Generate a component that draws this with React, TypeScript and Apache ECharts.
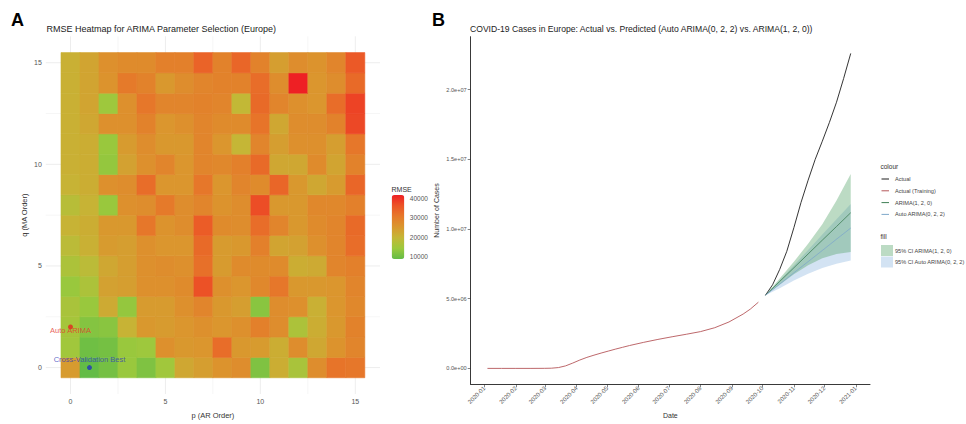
import React, { useEffect, useRef } from 'react';
import * as echarts from 'echarts';

// ---------- Panel A data ----------
const pOrders = [0, 1, 2, 3, 4, 5, 6, 7, 8, 9, 10, 11, 12, 13, 14, 15];
const qOrders = [0, 1, 2, 3, 4, 5, 6, 7, 8, 9, 10, 11, 12, 13, 14, 15];
// RMSE by q (rows), p = 0..15 (columns)
const rmseQ0 = [24500, 8800, 10500, 14000, 11500, 15000, 22500, 24000, 26000, 27000, 11500, 21500, 16000, 27000, 31500, 31000];
const rmseQ1 = [15000, 10000, 10500, 14000, 14500, 26500, 25000, 25500, 32500, 25000, 24500, 21500, 27000, 22500, 26000, 28500];
const rmseQ2 = [15500, 12000, 12500, 20500, 25000, 24500, 25500, 26500, 25500, 26500, 29500, 27000, 16500, 21500, 25000, 29000];
const rmseQ3 = [16000, 14000, 22000, 13500, 24500, 24500, 26500, 28500, 25000, 24000, 12500, 27000, 26500, 21000, 25500, 28000];
const rmseQ4 = [14000, 16500, 23500, 24000, 26500, 26500, 27500, 36500, 26500, 25500, 28000, 31000, 25000, 25000, 25500, 28500];
const rmseQ5 = [16500, 18500, 22500, 24000, 26500, 27000, 26500, 32000, 24500, 27500, 27500, 27500, 21500, 22000, 28500, 29500];
const rmseQ6 = [18500, 21000, 24500, 24000, 26500, 25500, 25500, 33000, 24500, 25000, 29500, 23000, 23500, 26500, 28500, 32500];
const rmseQ7 = [20500, 21500, 25000, 25000, 31000, 26000, 27000, 35000, 27500, 27000, 32500, 28500, 25000, 27500, 28500, 33000];
const rmseQ8 = [18000, 20500, 14000, 26500, 27000, 30500, 27000, 28500, 26000, 27000, 37000, 25000, 25000, 28000, 28000, 29500];
const rmseQ9 = [20500, 21500, 26500, 27000, 32500, 25500, 25500, 31000, 25500, 28500, 27500, 33500, 25000, 22500, 24500, 33500];
const rmseQ10 = [21000, 21500, 13500, 23500, 26500, 28500, 25500, 28500, 28000, 29500, 33000, 22500, 22500, 27500, 23000, 29000];
const rmseQ11 = [21000, 21500, 14000, 24500, 27000, 25000, 25000, 28500, 25500, 20000, 28500, 24000, 26500, 26500, 24000, 31000];
const rmseQ12 = [21000, 22500, 26500, 26500, 29000, 25500, 26500, 28500, 27500, 27500, 31500, 22500, 27000, 27000, 29000, 37500];
const rmseQ13 = [21000, 23000, 14500, 26500, 31000, 28500, 28500, 29000, 28500, 19500, 33000, 28500, 26500, 25500, 32500, 38000];
const rmseQ14 = [21000, 23000, 26000, 30500, 29000, 25000, 27000, 28500, 29000, 29000, 32500, 27000, 41700, 25500, 27000, 33000];
const rmseQ15 = [21000, 23000, 26500, 27500, 27500, 29500, 29500, 34000, 29000, 33500, 29000, 24000, 27000, 26000, 28500, 35500];
const rmseRows = [rmseQ0, rmseQ1, rmseQ2, rmseQ3, rmseQ4, rmseQ5, rmseQ6, rmseQ7, rmseQ8, rmseQ9, rmseQ10, rmseQ11, rmseQ12, rmseQ13, rmseQ14, rmseQ15];

const autoArimaPQ = [0, 2];
const cvBestPQ = [1, 0];
const markerLabels = ['Auto ARIMA', 'Cross-Validation Best'];
const heatTicks = [0, 5, 10, 15];
const heatGridLines = [0, 2.5, 5, 7.5, 10, 12.5, 15];
const rmseLegendTicks = [10000, 20000, 30000, 40000];
const heatColors = ['#63BC46', '#9CC93D', '#C4B736', '#DA972E', '#E6792A', '#EC5426', '#EE2024'];

// ---------- Panel B data ----------
const trainDates = ['2020-01-04', '2020-01-18', '2020-02-01', '2020-02-15', '2020-02-29', '2020-03-07', '2020-03-14', '2020-03-21', '2020-03-28', '2020-04-04', '2020-04-11', '2020-04-18', '2020-04-25', '2020-05-02', '2020-05-09', '2020-05-16', '2020-05-23', '2020-06-06', '2020-06-20', '2020-07-04', '2020-07-18', '2020-08-01', '2020-08-15', '2020-08-29', '2020-09-12', '2020-09-19', '2020-09-27'];
const trainCases = [0, 0, 0, 0, 5000, 15000, 60000, 180000, 380000, 600000, 790000, 950000, 1100000, 1240000, 1380000, 1510000, 1640000, 1870000, 2080000, 2270000, 2450000, 2640000, 2920000, 3330000, 3900000, 4250000, 4750000];
const actualDates = ['2020-10-04', '2020-10-11', '2020-10-18', '2020-10-25', '2020-11-01', '2020-11-08', '2020-11-15', '2020-11-22', '2020-11-29', '2020-12-06', '2020-12-13', '2020-12-20', '2020-12-27'];
const actualCases = [5250000, 6000000, 7100000, 8400000, 10100000, 11900000, 13500000, 15000000, 16300000, 17650000, 19100000, 20800000, 22600000];
const fcDates = ['2020-10-04', '2020-10-18', '2020-11-01', '2020-11-15', '2020-11-29', '2020-12-13', '2020-12-27'];
const arima120Mean = [5250000, 6240000, 7220000, 8210000, 9200000, 10180000, 11170000];
const arima120Lo = [5250000, 6000000, 6750000, 7400000, 7900000, 8200000, 8350000];
const arima120Hi = [5250000, 6450000, 7650000, 8950000, 10350000, 12050000, 13950000];
const autoMean = [5250000, 6050000, 6860000, 7660000, 8460000, 9270000, 10070000];
const autoLo = [5250000, 5750000, 6300000, 6800000, 7200000, 7500000, 7750000];
const autoHi = [5250000, 6350000, 7400000, 8500000, 9600000, 10700000, 11800000];
const monthTicks = ['2020-01', '2020-02', '2020-03', '2020-04', '2020-05', '2020-06', '2020-07', '2020-08', '2020-09', '2020-10', '2020-11', '2020-12', '2021-01'];
const caseTicks = [0, 5000000, 10000000, 15000000, 20000000];
const colourLegend = ['Actual', 'Actual (Training)', 'ARIMA(1, 2, 0)', 'Auto ARIMA(0, 2, 2)'];
const fillLegend = ['95% CI ARIMA(1, 2, 0)', '95% CI Auto ARIMA(0, 2, 2)'];

const FONT = '"Liberation Sans", Arial, Helvetica, sans-serif';
const lineColors = ['#1E1E1E', '#B5575A', '#3F7F55', '#7FA8CA'];
const fillColors = ['rgba(80,160,100,0.38)', 'rgba(130,175,220,0.35)'];

const ts = (d: string) => Date.parse(d + 'T00:00:00Z');
const monthTs = (m: string) => Date.parse(m + '-01T00:00:00Z');
const fmtMonth = (v: number) => {
  const d = new Date(v);
  return d.getUTCFullYear() + '-' + String(d.getUTCMonth() + 1).padStart(2, '0');
};
const sci = (v: number) => {
  if (v === 0) return '0.0e+00';
  const e = Math.floor(Math.log10(Math.abs(v)) + 1e-9);
  const m = v / Math.pow(10, e);
  return m.toFixed(1) + 'e+' + String(e).padStart(2, '0');
};

export default function App() {
  const ref = useRef<HTMLDivElement>(null);
  useEffect(() => {
    if (!ref.current) return;
    const chart = echarts.init(ref.current, null, { renderer: 'svg' });

    const heatData: number[][] = [];
    qOrders.forEach((q, qi) => pOrders.forEach((p, pi) => heatData.push([p, q, rmseRows[qi][pi]])));
    const allVals = heatData.map((d) => d[2]);
    const vMin = Math.min(...allVals);
    const vMax = Math.max(...allVals);

    const fcTs = fcDates.map(ts);
    const band = (lo: number[], hi: number[], fill: string, z: number) => ({
      type: 'custom',
      xAxisIndex: 1,
      yAxisIndex: 1,
      z,
      silent: true,
      data: fcTs.map((t, i) => [t, lo[i], hi[i]]),
      encode: { x: 0, y: [1, 2] },
      renderItem: (params: any, api: any) => {
        if (params.dataIndex !== 0) return null;
        const up = fcTs.map((t, i) => api.coord([t, hi[i]]));
        const dn = fcTs.map((t, i) => api.coord([t, lo[i]])).reverse();
        return { type: 'polygon', shape: { points: up.concat(dn) }, style: { fill } };
      },
    });

    const monthVals = monthTicks.map(monthTs);

    const graphics: any[] = [
      { type: 'text', x: 11, y: 20, style: { text: 'A', fontSize: 18, fontWeight: 'bold', fill: '#000', fontFamily: FONT, verticalAlign: 'middle' } },
      { type: 'text', x: 432, y: 20, style: { text: 'B', fontSize: 18, fontWeight: 'bold', fill: '#000', fontFamily: FONT, verticalAlign: 'middle' } },
      { type: 'text', x: 46.5, y: 29, style: { text: 'RMSE Heatmap for ARIMA Parameter Selection (Europe)', fontSize: 9, fill: '#222', fontFamily: FONT, verticalAlign: 'middle' } },
      { type: 'text', x: 470, y: 29, style: { text: 'COVID-19 Cases in Europe: Actual vs. Predicted (Auto ARIMA(0, 2, 2) vs. ARIMA(1, 2, 0))', fontSize: 8.6, fill: '#222', fontFamily: FONT, verticalAlign: 'middle' } },
      { type: 'text', x: 391.5, y: 189, style: { text: 'RMSE', fontSize: 7, fill: '#333', fontFamily: FONT, verticalAlign: 'middle' } },
      { type: 'text', x: 880.5, y: 166, style: { text: 'colour', fontSize: 6.5, fill: '#333', fontFamily: FONT, verticalAlign: 'middle' } },
      { type: 'text', x: 880.5, y: 236, style: { text: 'fill', fontSize: 6.5, fill: '#333', fontFamily: FONT, verticalAlign: 'middle' } },
    ];
    colourLegend.forEach((name, i) => {
      const y = 179 + i * 11.8;
      graphics.push({ type: 'line', shape: { x1: 881.5, y1: y, x2: 889, y2: y }, style: { stroke: lineColors[i], lineWidth: 1 } });
      graphics.push({ type: 'text', x: 895, y, style: { text: name, fontSize: 5.6, fill: '#444', fontFamily: FONT, verticalAlign: 'middle' } });
    });
    fillLegend.forEach((name, i) => {
      const y = 245 + i * 11.5;
      graphics.push({ type: 'rect', shape: { x: 881, y, width: 12, height: 11 }, style: { fill: fillColors[i] } });
      graphics.push({ type: 'text', x: 895, y: y + 5.5, style: { text: name, fontSize: 5.6, fill: '#444', fontFamily: FONT, verticalAlign: 'middle' } });
    });

    const option: any = {
      animation: false,
      backgroundColor: '#fff',
      textStyle: { fontFamily: FONT },
      grid: [
        { left: 45.8, top: 36.3, width: 334.2, height: 368.4 },
        { left: 470.7, top: 36.7, width: 399.3, height: 355.3 },
        { left: 391.7, top: 195, width: 12.6, height: 64 },
      ],
      xAxis: [
        {
          gridIndex: 0, type: 'value', min: -1.3, max: 16.3,
          axisLine: { show: false }, axisTick: { show: false }, splitLine: { show: false },
          axisLabel: { customValues: heatTicks, fontSize: 7, color: '#555', margin: 4 },
          name: 'p (AR Order)', nameLocation: 'middle', nameGap: 17, nameTextStyle: { fontSize: 7.5, color: '#333' },
        },
        {
          gridIndex: 1, type: 'value', min: Date.UTC(2019, 11, 18, 12), max: Date.UTC(2021, 0, 15),
          axisLine: { show: true, onZero: false, lineStyle: { color: '#222', width: 0.9 } },
          axisTick: { show: true, customValues: monthVals, length: 3, lineStyle: { color: '#333', width: 0.6 } },
          axisLabel: { customValues: monthVals, formatter: (v: number) => fmtMonth(v), rotate: 45, margin: 3, fontSize: 6, color: '#555', fontFamily: FONT },
          splitLine: { show: false },
          name: 'Date', nameLocation: 'middle', nameGap: 26, nameTextStyle: { fontSize: 7, color: '#333' },
        },
        { gridIndex: 2, type: 'value', show: false, min: 0, max: 1 },
      ],
      yAxis: [
        {
          gridIndex: 0, type: 'value', min: -1.3, max: 16.3,
          axisLine: { show: false }, axisTick: { show: false }, splitLine: { show: false },
          axisLabel: { customValues: heatTicks, fontSize: 7, color: '#555', margin: 4 },
          name: 'q (MA Order)', nameLocation: 'middle', nameGap: 17, nameRotate: 90, nameTextStyle: { fontSize: 7.5, color: '#333' },
        },
        {
          gridIndex: 1, type: 'value', min: -1140000, max: 23800000,
          axisLine: { show: true, onZero: false, lineStyle: { color: '#222', width: 0.9 } },
          axisTick: { show: true, customValues: caseTicks, length: 3, lineStyle: { color: '#333', width: 0.6 } },
          axisLabel: { customValues: caseTicks, formatter: (v: number) => sci(v), margin: 4, fontSize: 5.6, color: '#555', fontFamily: FONT },
          splitLine: { show: false },
          name: 'Number of Cases', nameLocation: 'middle', nameGap: 31, nameRotate: 90, nameTextStyle: { fontSize: 7, color: '#333' },
        },
        {
          gridIndex: 2, type: 'value', min: vMin, max: vMax, position: 'right',
          axisLine: { show: false }, axisTick: { show: false }, splitLine: { show: false },
          axisLabel: { customValues: rmseLegendTicks, formatter: (v: number) => String(v), fontSize: 6.5, color: '#555', margin: 5.5 },
        },
      ],
      visualMap: {
        type: 'continuous', seriesIndex: 1, dimension: 2, min: vMin, max: vMax,
        inRange: { color: heatColors }, show: true, calculable: false, hoverLink: false,
        left: 391.7, top: 195, itemWidth: 12.6, itemHeight: 64, padding: 0, orient: 'vertical',
      },
      graphic: graphics,
      series: [
        {
          type: 'custom', xAxisIndex: 0, yAxisIndex: 0, z: 1, silent: true,
          data: heatGridLines.map((v) => [v, v]),
          encode: { x: 0, y: 1 },
          renderItem: (params: any, api: any) => {
            const v = api.value(0);
            const cs = params.coordSys;
            const px = api.coord([v, 0])[0];
            const py = api.coord([0, v])[1];
            const w = v % 5 === 0 ? 0.9 : 0.45;
            return {
              type: 'group',
              children: [
                { type: 'line', shape: { x1: px, y1: cs.y, x2: px, y2: cs.y + cs.height }, style: { stroke: '#EBEBEB', lineWidth: w } },
                { type: 'line', shape: { x1: cs.x, y1: py, x2: cs.x + cs.width, y2: py }, style: { stroke: '#EBEBEB', lineWidth: w } },
              ],
            };
          },
        },
        {
          type: 'custom', xAxisIndex: 0, yAxisIndex: 0, z: 2, silent: true,
          data: heatData,
          encode: { x: 0, y: 1 },
          renderItem: (params: any, api: any) => {
            const p = api.value(0);
            const q = api.value(1);
            const tl = api.coord([p - 0.5, q + 0.5]);
            const br = api.coord([p + 0.5, q - 0.5]);
            const c = api.visual('color');
            return { type: 'rect', shape: { x: tl[0], y: tl[1], width: br[0] - tl[0], height: br[1] - tl[1] }, style: { fill: c, stroke: c, lineWidth: 0.6 } };
          },
        },
        {
          type: 'scatter', xAxisIndex: 0, yAxisIndex: 0, z: 5, symbolSize: 5, silent: true,
          data: [
            { value: autoArimaPQ, itemStyle: { color: '#E3261F' }, label: { show: true, formatter: markerLabels[0], position: 'inside', offset: [0, 4], color: '#E3362C', fontSize: 7.5 } },
            { value: cvBestPQ, itemStyle: { color: '#2233BB' }, label: { show: true, formatter: markerLabels[1], position: 'inside', offset: [0, -8], color: '#3443B8', fontSize: 7.5 } },
          ],
        },
        band(autoLo, autoHi, fillColors[1], 1),
        band(arima120Lo, arima120Hi, fillColors[0], 2),
        {
          type: 'line', name: colourLegend[1], xAxisIndex: 1, yAxisIndex: 1, z: 3, showSymbol: false, silent: true,
          data: trainDates.map((d, i) => [ts(d), trainCases[i]]),
          lineStyle: { color: lineColors[1], width: 0.9 },
        },
        {
          type: 'line', name: colourLegend[0], xAxisIndex: 1, yAxisIndex: 1, z: 3, showSymbol: false, silent: true,
          data: actualDates.map((d, i) => [ts(d), actualCases[i]]),
          lineStyle: { color: lineColors[0], width: 0.9 },
        },
        {
          type: 'line', name: colourLegend[2], xAxisIndex: 1, yAxisIndex: 1, z: 3, showSymbol: false, silent: true,
          data: fcDates.map((d, i) => [ts(d), arima120Mean[i]]),
          lineStyle: { color: lineColors[2], width: 0.8 },
        },
        {
          type: 'line', name: colourLegend[3], xAxisIndex: 1, yAxisIndex: 1, z: 3, showSymbol: false, silent: true,
          data: fcDates.map((d, i) => [ts(d), autoMean[i]]),
          lineStyle: { color: lineColors[3], width: 0.8 },
        },
      ],
    };
    chart.setOption(option);
    return () => chart.dispose();
  }, []);
  return <div ref={ref} style={{ position: 'absolute', left: 0, top: 0, width: 966, height: 424, background: '#fff' }} />;
}
